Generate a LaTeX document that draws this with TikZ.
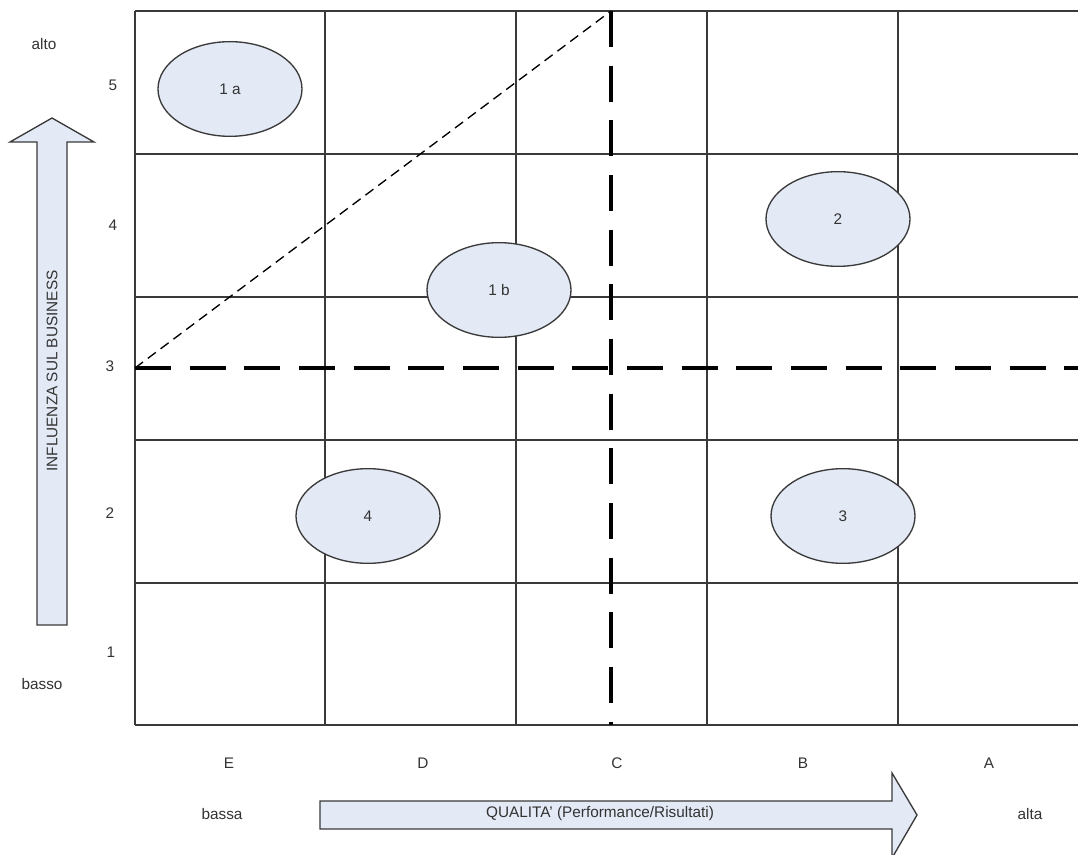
\documentclass[tikz,border=0pt]{standalone}
\usepackage{fontspec}
\setmainfont{Liberation Sans}
\usetikzlibrary{shapes.geometric}
\definecolor{boxfill}{HTML}{E3E9F5}
\definecolor{ink}{HTML}{3A3A3A}
\definecolor{txt}{HTML}{333333}
\tikzset{
  gridline/.style={draw=ink, line width=1.1pt},
  bigdash/.style={draw=black, line width=2.8pt, dash pattern=on 27pt off 14pt},
  smalldash/.style={draw=black, line width=1pt, dash pattern=on 7.5pt off 4.5pt},
  bubble/.style={ellipse, draw=ink, line width=1pt, fill=boxfill,
    minimum width=108pt, minimum height=71pt, inner sep=0pt, font=\fontsize{11.5}{13}\selectfont, text=txt},
  lbl/.style={font=\fontsize{11.5}{13}\selectfont, text=txt, inner sep=0pt},
  bigarrow/.style={draw=ink, line width=1pt, fill=boxfill, line join=miter},
}
\begin{document}
\begin{tikzpicture}[x=0.75pt, y=-0.75pt]
\useasboundingbox (0,0) rectangle (1078,855);
\fill[white] (0,0) rectangle (1078,855);
\begin{scope}
\clip (0,0) rectangle (1078,855);
% grid of 5 rows x 5 columns
\foreach \yy in {11,154,297,440,583,725}
  \draw[gridline] (135,\yy) -- (1095,\yy);
\foreach \xx in {135,325,516,707,898}
  \draw[gridline] (\xx,11) -- (\xx,725);
% quadrant dividers
\coordinate (h0) at (135,368);
\coordinate (h1) at (1085,368);
\coordinate (v0) at (611,11);
\coordinate (v1) at (611,725);
\draw[smalldash] (h0) -- (v0);
\draw[bigdash] (h0) -- (h1);
\draw[bigdash] (v0) -- (v1);
% vertical axis arrow
\draw[bigarrow] (37,625) -- (37,142) -- (10,142) -- (52,118) -- (94,142) -- (67,142) -- (67,625) -- cycle;
% horizontal axis arrow
\draw[bigarrow] (320,801) -- (892,801) -- (892,773) -- (917,815) -- (892,858) -- (892,829) -- (320,829) -- cycle;
\end{scope}
% bubbles
\node[bubble] (b1a) at (230,89) {1 a};
\node[bubble] (b1b) at (499,290) {1 b};
\node[bubble] (b2) at (838,219) {2};
\node[bubble] (b3) at (843,516) {3};
\node[bubble] (b4) at (368,516) {4};
% row labels
\node[lbl] (alto) at (44,44) {alto};
\node[lbl] (r5) at (113,85) {5};
\node[lbl] (r4) at (113,225) {4};
\node[lbl] (r3) at (110,366) {3};
\node[lbl] (r2) at (110,513) {2};
\node[lbl] (r1) at (111,652) {1};
\node[lbl] (basso) at (42,684) {basso};
\node[lbl, rotate=90] (yaxis) at (52,371) {INFLUENZA SUL BUSINESS};
% column labels
\node[lbl] (cE) at (229,763) {E};
\node[lbl] (cD) at (423,763) {D};
\node[lbl] (cC) at (617,763) {C};
\node[lbl] (cB) at (803,763) {B};
\node[lbl] (cA) at (989,763) {A};
\node[lbl] (bassa) at (222,814) {bassa};
\node[lbl] (alta) at (1030,814) {alta};
\node[lbl] (xaxis) at (600,814) {QUALITA' (Performance/Risultati)};
\end{tikzpicture}
\end{document}
